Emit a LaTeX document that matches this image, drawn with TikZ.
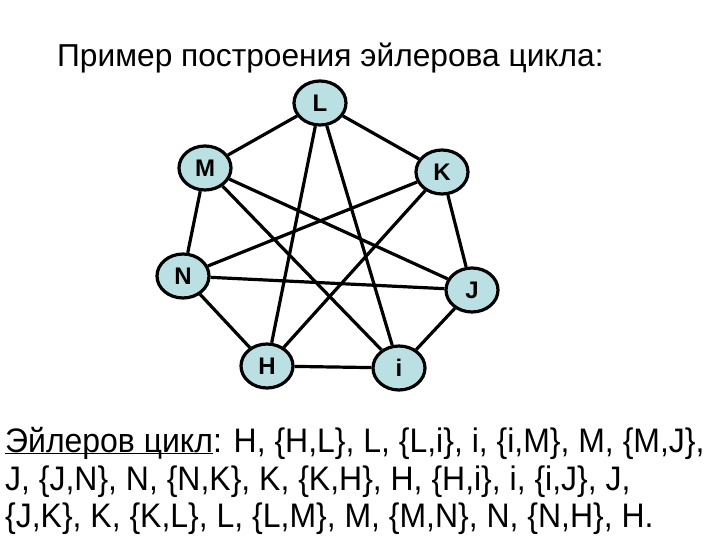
\documentclass[tikz,border=0pt]{standalone}
\usepackage{fontspec}
\setmainfont{Liberation Sans}
\newfontfamily\narrowfont[FakeStretch=0.94]{Liberation Sans}
\usetikzlibrary{shapes.geometric}
\definecolor{nodefill}{RGB}{187,224,227}
\tikzset{
  vert/.style={ellipse, draw=black, line width=3.2pt, fill=nodefill,
    minimum width=52pt, minimum height=44pt, inner sep=0pt,
    font=\bfseries\fontsize{24}{24}\selectfont},
  edge/.style={line width=3.2pt, black},
  title/.style={anchor=base west, inner sep=0pt, font=\fontsize{31.7}{32}\selectfont},
  cyc/.style={anchor=base west, inner sep=0pt, font=\narrowfont\fontsize{34}{34}\selectfont}
}
\begin{document}
\begin{tikzpicture}[x=1pt,y=-1pt]
\useasboundingbox[fill=white] (0,0) rectangle (720,540);
\node[title] (title) at (57,67) {Пример построения эйлерова цикла:};
\node[vert] (L) at (320,103) {L};
\node[vert] (M) at (205,168) {M};
\node[vert] (K) at (442,172) {K};
\node[vert] (N) at (183,276) {N};
\node[vert] (J) at (472,290) {J};
\node[vert] (H) at (267,366) {H};
\node[vert] (i) at (399,368) {i};
\begin{scope}[edge]
\draw (H) -- (L);
\draw (L) -- (i);
\draw (i) -- (M);
\draw (M) -- (J);
\draw (J) -- (N);
\draw (N) -- (K);
\draw (K) -- (H);
\draw (H) -- (i);
\draw (i) -- (J);
\draw (J) -- (K);
\draw (K) -- (L);
\draw (L) -- (M);
\draw (M) -- (N);
\draw (N) -- (H);
\end{scope}
\node[cyc] (c1) at (5,452) {\underline{\smash{Эйлеров цикл}}: H, \{H,L\}, L, \{L,i\}, i, \{i,M\}, M, \{M,J\},};
\node[cyc] (c2) at (5,490) {J, \{J,N\}, N, \{N,K\}, K, \{K,H\}, H, \{H,i\}, i, \{i,J\}, J,};
\node[cyc] (c3) at (5,527) {\{J,K\}, K, \{K,L\}, L, \{L,M\}, M, \{M,N\}, N, \{N,H\}, H.};
\end{tikzpicture}
\end{document}
